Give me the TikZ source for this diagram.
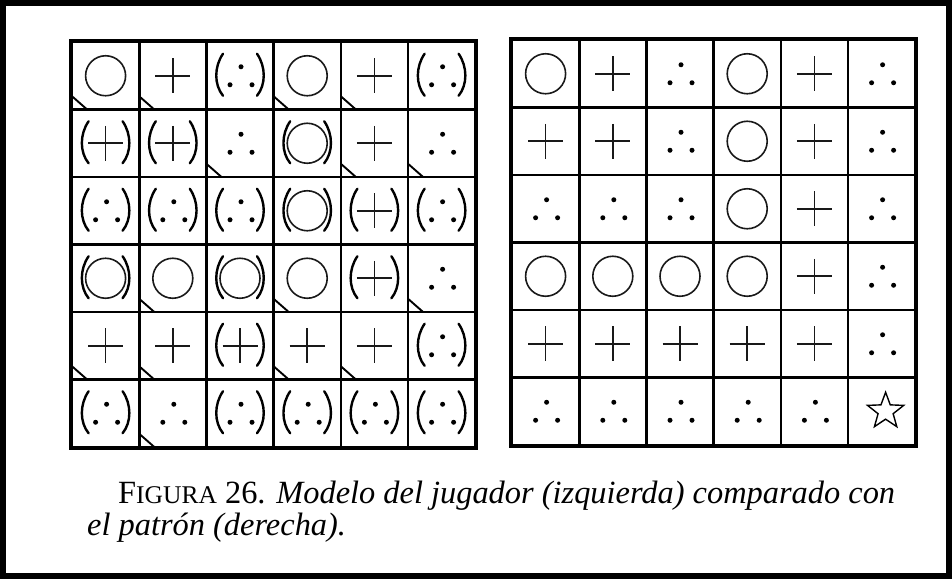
\documentclass[tikz,border=0pt]{standalone}
\usepackage{fontspec}
\setmainfont{Liberation Serif}
\usetikzlibrary{shapes.geometric}
\tikzset{
  cellbox/.style={draw,line width=2.6pt,minimum width=67.2pt,minimum height=67.5pt,inner sep=0pt},
  frameline/.style={line width=3.6pt},
  symline/.style={line width=1.6pt,black!90},
  parenline/.style={line width=2.4pt,line cap=round},
  cornerline/.style={line width=1.9pt}
}
\newcommand{\symo}[1]{\draw[symline] (#1.center) circle (20);}
\newcommand{\symp}[1]{\begin{scope}[shift={(#1.center)}]
\draw[symline] (-17.5,0)--(17.5,0) (0,-17.5)--(0,17.5);\end{scope}}
\newcommand{\symd}[1]{\begin{scope}[shift={(#1.center)}]
\fill (1,-9) circle (2.5) (-10,9) circle (2.5) (12,9) circle (2.5);\end{scope}}
\newcommand{\syms}[1]{\node[draw,star,star points=5,star point ratio=2.4,minimum size=38pt,
inner sep=0pt,line width=1.4pt,xshift=4pt] at (#1.center) {};}
\newcommand{\marky}[1]{\begin{scope}[shift={(#1.center)}]
\draw[parenline] (-17,-22) .. controls (-26,-9) and (-26,9) .. (-17,20)
(17,-22) .. controls (26,-9) and (26,9) .. (17,20);\end{scope}}
\newcommand{\markn}[1]{\begin{scope}[shift={(#1.center)}]
\draw[cornerline] (-33.6,20.5) -- (-18.5,33.75);\end{scope}}
\newcommand{\markz}[1]{}
\begin{document}
\begin{tikzpicture}[x=1pt,y=-1pt]
\useasboundingbox (0,0) rectangle (952,579);
\draw[line width=6pt] (3,3) rectangle (949,576);
% modelo del jugador
\foreach \row [count=\r] in {{o/n,p/n,d/y,o/n,p/n,d/y},{p/y,p/y,d/n,o/y,p/n,d/n},
{d/y,d/y,d/y,o/y,p/y,d/y},{o/y,o/n,o/y,o/n,p/y,d/n},
{p/n,p/n,p/y,p/n,p/n,d/y},{d/y,d/n,d/y,d/y,d/y,d/y}}
{\foreach \s/\m [count=\c] in \row {
\node[cellbox] (L-\r-\c) at ({72+67.2*(\c-0.5)},{42+67.5*(\r-0.5)}) {};
\csname sym\s\endcsname{L-\r-\c}\csname mark\m\endcsname{L-\r-\c}}}
% patron
\foreach \row [count=\r] in {{o,p,d,o,p,d},{p,p,d,o,p,d},{d,d,d,o,p,d},
{o,o,o,o,p,d},{p,p,p,p,p,d},{d,d,d,d,d,s}}
{\foreach \s [count=\c] in \row {
\node[cellbox] (R-\r-\c) at ({512+67.2*(\c-0.5)},{40+67.5*(\r-0.5)}) {};
\csname sym\s\endcsname{R-\r-\c}}}
\draw[frameline] (L-1-1.north west) rectangle (L-6-6.south east);
\draw[frameline] (R-1-1.north west) rectangle (R-6-6.south east);
\node[anchor=base west,inner sep=0pt,font=\fontsize{32.4}{38}\selectfont] (cap1) at (118,503)
{F{\fontsize{25.5}{30}\selectfont IGURA} 26. \textit{Modelo del jugador (izquierda) comparado con}};
\node[anchor=base west,inner sep=0pt,font=\fontsize{32.4}{38}\selectfont\itshape] (cap2) at (87,535)
{el patrón (derecha).};
\end{tikzpicture}
\end{document}
